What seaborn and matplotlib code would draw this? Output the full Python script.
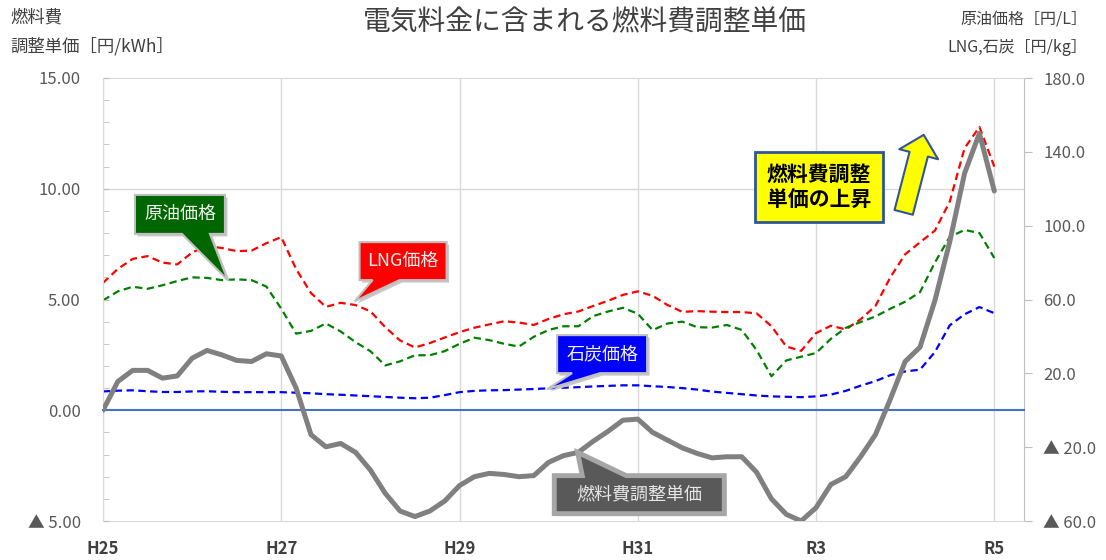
import matplotlib
matplotlib.use("Agg")
import matplotlib.pyplot as plt
import seaborn as sns
from matplotlib.ticker import MultipleLocator, FixedLocator
from matplotlib.patches import Polygon
from matplotlib.transforms import IdentityTransform

# ---- data (months since H25 start, bimonthly) ----
months = list(range(0, 121, 2))
fuel_adj = [0.0, 1.3, 1.8, 1.8, 1.45, 1.55, 2.35, 2.7, 2.5, 2.25, 2.2, 2.55, 2.45, 1.0, -1.1, -1.65,
            -1.5, -1.9, -2.7, -3.75, -4.55, -4.8, -4.55, -4.1, -3.4, -3.0, -2.85, -2.9, -3.0, -2.95,
            -2.35, -2.05, -1.9, -1.4, -0.95, -0.45, -0.4, -1.0, -1.35, -1.7, -1.95, -2.15, -2.1, -2.1,
            -2.8, -4.0, -4.7, -5.0, -4.4, -3.35, -3.0, -2.1, -1.1, 0.5, 2.2, 2.85, 4.95, 7.6, 10.7,
            12.5, 9.9]
crude = [59.5, 64.4, 66.9, 65.8, 67.7, 70, 72, 71.7, 70.5, 70.9, 70.5, 67, 55, 41.5, 43, 47, 42.7,
         36.9, 32, 24.3, 26.5, 29.8, 29.8, 32, 36, 39.3, 38, 36, 34.5, 39.8, 43.5, 45.5, 45.5, 51,
         53.5, 55.5, 52.3, 43.4, 47, 48, 45, 44.8, 46.2, 43.5, 32.6, 18.4, 27, 29, 31, 38.7, 44.6,
         47.8, 50.8, 55, 58.8, 64, 80, 93.9, 97.7, 96, 82.5]
lng = [69, 76.6, 82, 83.5, 80, 79, 85.5, 89, 87.9, 86.2, 86.5, 90.5, 93.8, 76.5, 63.5, 56, 58.2, 57,
       53.6, 45, 37.8, 34, 36.4, 39.4, 42.3, 44.7, 46.5, 48.2, 47.5, 46.2, 49.5, 52, 53.5, 56.5,
       59.3, 62.5, 64.4, 62, 57, 53.3, 53.7, 53.4, 53.2, 53.2, 52.5, 45.5, 34.5, 32.2, 41.8, 45.8,
       43.8, 49.3, 56.5, 72, 84.5, 91, 97.3, 113, 142, 153.5, 132]
coal = [10.2, 10.6, 10.8, 10.3, 9.9, 9.9, 10.2, 10.3, 10.0, 9.8, 9.8, 9.8, 9.8, 9.5, 9.2, 8.7, 8.4,
        8.0, 7.6, 7.2, 6.8, 6.5, 6.8, 8.2, 9.8, 10.5, 10.8, 10.9, 11.2, 11.5, 11.9, 12.2, 12.5,
        12.9, 13.2, 13.5, 13.5, 13.0, 12.6, 12.0, 11.2, 10.1, 9.4, 8.7, 8.0, 7.5, 7.3, 7.1, 7.5,
        8.5, 10.5, 13.3, 15.8, 19.0, 21.0, 22.0, 31.5, 46, 52, 55.9, 52.6]

x_ticks = [0, 24, 48, 72, 96, 120]
x_labels = ["H25", "H27", "H29", "H31", "R3", "R5"]
left_ticks = [-5, 0, 5, 10, 15]
left_labels = ["▲ 5.00", "0.00", "5.00", "10.00", "15.00"]
right_ticks = [-60, -20, 20, 60, 100, 140, 180]
right_labels = ["▲ 60.0", "▲ 20.0", "20.0", "60.0", "100.0", "140.0", "180.0"]

sns.set_style("white")
plt.rcParams['font.family'] = ['Noto Sans CJK JP', 'DejaVu Sans']

W, H = 1106, 560
fig = plt.figure(figsize=(W / 100, H / 100), dpi=100)
ax = fig.add_axes([103 / W, 1 - 521 / H, (1024 - 103) / W, (521 - 78) / H])
ax2 = ax.twinx()
ax.set_zorder(ax2.get_zorder() + 1)
ax.patch.set_visible(False)

dash = (0, (3.3, 2.0))
sns.lineplot(x=months, y=lng, ax=ax2, color="#ff0000", lw=1.6, linestyle=dash)
sns.lineplot(x=months, y=crude, ax=ax2, color="#008000", lw=1.6, linestyle=dash)
sns.lineplot(x=months, y=coal, ax=ax2, color="#0000ff", lw=1.6, linestyle=dash)
sns.lineplot(x=months, y=fuel_adj, ax=ax, color="#808080", lw=3.6, zorder=5)

ax.set_xlim(0, 124)
ax.set_ylim(-5, 15)
ax2.set_ylim(-60, 180)

# left axis
ax.set_yticks(left_ticks, left_labels)
ax.yaxis.set_minor_locator(MultipleLocator(1))
ax.tick_params(axis='y', which='both', direction='in', length=4, color='#bfbfbf',
               labelsize=12, labelcolor='#595959', pad=16)
# right axis
ax2.set_yticks(right_ticks, right_labels)
ax2.yaxis.set_minor_locator(FixedLocator([60, 120]))
ax2.tick_params(axis='y', which='major', direction='out', length=6, color='#bfbfbf',
                labelsize=12, labelcolor='#595959', pad=8)
ax2.tick_params(axis='y', which='minor', length=0)
ax2.yaxis.grid(True, which='minor', color='#d9d9d9', lw=1)

# x axis: blue zero line with ticks, labels at bottom
ax.set_xticks(x_ticks)
ax.xaxis.set_minor_locator(FixedLocator([12, 36, 60, 84, 108]))
ax.spines['bottom'].set_position(('data', 0))
ax.spines['bottom'].set_color('#4472C4')
ax.spines['bottom'].set_linewidth(1.5)
ax.tick_params(axis='x', which='both', direction='in', length=5, width=1.2, color='#4472C4',
               labelbottom=False)
ax2.xaxis.set_visible(True)
ax2.set_xticks(x_ticks)
ax2.set_xticklabels(x_labels, fontweight='bold')
ax2.tick_params(axis='x', which='both', length=0, labelbottom=True, labelsize=12,
                labelcolor='#404040', pad=14)
ax2.xaxis.grid(True, which='major', color='#d9d9d9', lw=1)

for s in ['top', 'right']:
    ax.spines[s].set_visible(False)
ax.spines['left'].set_color('#d9d9d9')
ax2.spines['left'].set_visible(False)
ax2.spines['right'].set_color('#bfbfbf')
ax2.spines['top'].set_color('#d9d9d9')
ax2.spines['bottom'].set_color('#d9d9d9')

# titles
fig.text(585 / W, 1 - 22 / H, "電気料金に含まれる燃料費調整単価", ha='center', va='center',
         fontsize=20, color='#404040')
fig.text(10 / W, 1 - 18 / H, "燃料費", ha='left', va='center', fontsize=12.5, color='#404040')
fig.text(10 / W, 1 - 46 / H, "調整単価［円/kWh］", ha='left', va='center', fontsize=12.5, color='#404040')
fig.text(1087 / W, 1 - 20 / H, "原油価格［円/L］", ha='right', va='center', fontsize=11.5, color='#404040')
fig.text(1087 / W, 1 - 48 / H, "LNG,石炭［円/kg］", ha='right', va='center', fontsize=11.5, color='#404040')


# callouts: box + triangular pointer drawn as one polygon (pixel coordinates)
def callout(text, tip, tip_ax, center, center_ax, size, base, side, fc, ec, tc, lw=1.5, fs=13):
    tx, ty = tip_ax.transData.transform(tip)
    cx, cy = center_ax.transData.transform(center)
    w, h = size
    x0, x1 = cx - w / 2, cx + w / 2
    y0, y1 = cy - h / 2, cy + h / 2
    b0, b1 = x0 + base[0], x0 + base[1]
    if side == 'bottom':
        pts = [(x0, y1), (x1, y1), (x1, y0), (b1, y0), (tx, ty), (b0, y0), (x0, y0)]
    else:
        pts = [(x0, y0), (x1, y0), (x1, y1), (b1, y1), (tx, ty), (b0, y1), (x0, y1)]
    shadow = [(px + 2.5, py - 2.5) for px, py in pts]
    fig.add_artist(Polygon(shadow, closed=True, transform=IdentityTransform(),
                           fc='#c8c8c8', ec='none', zorder=4))
    fig.add_artist(Polygon(pts, closed=True, transform=IdentityTransform(),
                           fc=fc, ec=ec, lw=lw, joinstyle='miter', zorder=5))
    fig.text(cx / W, cy / H, text, ha='center', va='center', fontsize=fs, color=tc, zorder=6)


callout("原油価格", (16.8, 70.5), ax2, (10.36, 106.1), ax2, (90, 39), (47, 75), 'bottom',
        '#006600', '#bfbfbf', '#f2f2f2')
callout("LNG価格", (33.9, 59.1), ax2, (40.4, 80.8), ax2, (87, 38), (13, 40), 'bottom',
        '#ff0000', '#bfbfbf', '#f2f2f2')
callout("石炭価格", (59.8, 11.4), ax2, (67.2, 30.4), ax2, (90, 38), (15, 43), 'bottom',
        '#0000ff', '#bfbfbf', '#f2f2f2')
callout("燃料費調整単価", (63.9, -1.9), ax, (72.2, -3.81), ax, (170, 38), (28, 72), 'top',
        '#595959', '#a6a6a6', '#e6e6e6', lw=3.5)

ax.annotate("燃料費調整\n単価の上昇", xy=(96.4, 120.7), xycoords=ax2.transData,
            ha='center', va='center', fontsize=15, fontweight='bold', color='black',
            linespacing=1.3, zorder=10, annotation_clip=False,
            bbox=dict(boxstyle='square,pad=0.55', fc='#ffff00', ec='#2f5597', lw=2))
ax.annotate("", xy=(110.5, 149.2), xycoords=ax2.transData, xytext=(107.8, 107.2),
            textcoords=ax2.transData, zorder=10, annotation_clip=False,
            arrowprops=dict(arrowstyle='simple,head_length=0.72,head_width=1.44,tail_width=0.68',
                            mutation_scale=20, fc='#ffff00', ec='#2f5597', lw=1.5,
                            shrinkA=0, shrinkB=0))

fig.savefig("out.png", dpi=100)
